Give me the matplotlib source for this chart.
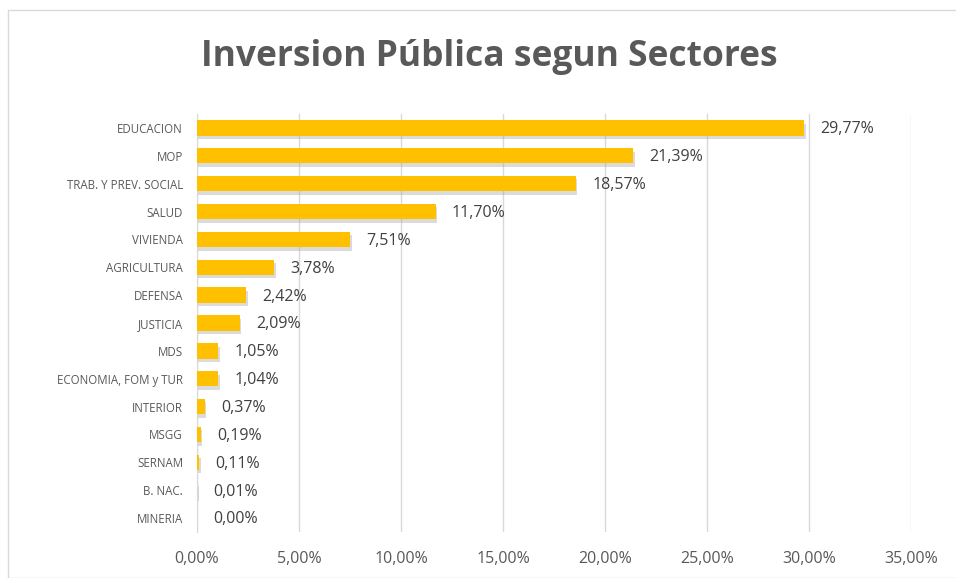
import matplotlib
matplotlib.use('Agg')
import matplotlib.pyplot as plt
from matplotlib.patches import Rectangle
import matplotlib.patheffects as pe

sectores = ['EDUCACION', 'MOP', 'TRAB. Y PREV. SOCIAL', 'SALUD', 'VIVIENDA',
            'AGRICULTURA', 'DEFENSA', 'JUSTICIA', 'MDS', 'ECONOMIA, FOM y TUR',
            'INTERIOR', 'MSGG', 'SERNAM', 'B. NAC.', 'MINERIA']
valores = [29.77, 21.39, 18.57, 11.70, 7.51, 3.78, 2.42, 2.09, 1.05, 1.04,
           0.37, 0.19, 0.11, 0.01, 0.00]
ticks = [0, 5, 10, 15, 20, 25, 30, 35]

gris = '#595959'
plt.rcParams['font.family'] = ['Open Sans', 'DejaVu Sans']

fig = plt.figure(figsize=(9.56, 5.78), dpi=100)
fig.patches.append(Rectangle((8 / 956, 0), 1, 1 - 10 / 578, transform=fig.transFigure,
                             fill=False, edgecolor='#D9D9D9', linewidth=1))
ax = fig.add_axes([197 / 956, 1 - 532 / 578, (911 - 197) / 956, (532 - 114) / 578])

y = list(range(len(sectores)))
bars = ax.barh(y, valores, height=0.55, color='#FFC000', zorder=3)
for b in bars:
    b.set_path_effects([pe.SimplePatchShadow(offset=(1, -2.5), shadow_rgbFace='#9a9a9a', alpha=0.35),
                        pe.Normal()])

for yi, v in zip(y, valores):
    ax.text(v + 0.8, yi + 0.05, f'{v:.2f}%'.replace('.', ','), va='center', ha='left',
            fontsize=11.5, color='#404040')

ax.set_xlim(0, 35)
ax.set_ylim(len(sectores) - 0.5, -0.5)
ax.set_xticks(ticks)
ax.set_xticklabels([f'{t:.2f}%'.replace('.', ',') for t in ticks], color=gris, fontsize=11.5)
ax.set_yticks(y)
ax.set_yticklabels(sectores, color=gris, fontsize=8.3)
ax.tick_params(length=0, axis='x', pad=14)
ax.tick_params(length=0, axis='y', pad=10)
ax.grid(axis='x', color='#D9D9D9', linewidth=1, zorder=0)
for s in ['top', 'right', 'bottom']:
    ax.spines[s].set_visible(False)
ax.spines['left'].set_color('#D9D9D9')

fig.text(489 / 956, 1 - 57 / 578, 'Inversion Pública segun Sectores', ha='center', va='center',
         fontsize=25.5, fontweight='bold', color=gris)

fig.savefig('out.png', dpi=100)
